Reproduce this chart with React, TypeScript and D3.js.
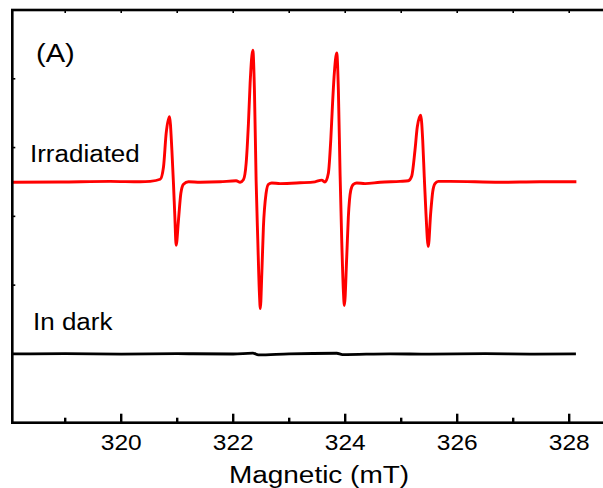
import React from "react";
import * as d3 from "d3";

// Irradiated spectrum (field in mT, intensity a.u.)
const irradiatedField = [
  318.055, 318.911, 319.804, 320.339,
  320.517, 320.696, 320.755, 320.803, 320.862, 320.905, 320.933, 320.958, 320.981, 321.022, 321.065, 321.112, 321.201,
  321.41, 321.767, 322.052,
  322.124, 322.182, 322.231, 322.272, 322.302, 322.35, 322.379, 322.409, 322.439, 322.468, 322.484, 322.511, 322.539, 322.587, 322.628, 322.689, 322.837,
  323.194, 323.462, 323.581,
  323.64, 323.699, 323.742, 323.771, 323.801, 323.849, 323.878, 323.908, 323.938, 323.967, 323.985, 324.027, 324.056, 324.099, 324.145, 324.206, 324.354,
  324.622, 324.979,
  325.127, 325.187, 325.246, 325.287, 325.348, 325.384, 325.412, 325.442, 325.483, 325.526, 325.562, 325.603, 325.662, 325.871,
  326.763, 327.477, 328.128,
];
const irradiatedSignal = [
  3.495, 3.499, 3.509, 3.502,
  3.509, 3.539, 3.718, 4.209, 4.449, 3.961, 3.48, 2.99, 2.578, 2.942, 3.335, 3.466, 3.502,
  3.495, 3.502, 3.517,
  3.495, 3.531, 3.772, 4.354, 4.937, 5.417, 4.835, 3.524, 2.65, 1.879, 1.66, 2.17, 2.84, 3.335, 3.466, 3.485, 3.476,
  3.488, 3.502, 3.527,
  3.499, 3.626, 4.107, 4.592, 5.028, 5.374, 4.835, 3.626, 2.65, 1.922, 1.704, 2.407, 2.99, 3.378, 3.466, 3.485, 3.476,
  3.495, 3.509,
  3.517, 3.582, 3.961, 4.3, 4.471, 4.107, 3.572, 3.044, 2.563, 3.044, 3.354, 3.476, 3.509, 3.509,
  3.495, 3.502, 3.502,
];

// In-dark spectrum
const darkField = [318.055, 319.0, 320.0, 321.0, 322.0, 322.35, 322.45, 323.0, 323.85, 323.95, 324.8, 325.5, 326.5, 327.3, 328.12];
const darkSignal = [1.0, 1.004, 0.998, 1.003, 0.999, 1.012, 0.985, 1.002, 1.01, 0.99, 1.002, 0.996, 1.003, 0.998, 1.0];

const xMajorTicks = [320, 322, 324, 326, 328];
const xMinorTicks = [319, 321, 323, 325, 327];
const xTopTicks = [319, 320, 321, 322, 323, 324, 325, 326, 327, 328];
const yTicks = [1, 2, 3, 4, 5];

const W = 603;
const H = 488;
const FONT = "'Liberation Sans', Arial, Helvetica, sans-serif";

export default function App() {
  const x = d3.scaleLinear().domain([318.055, 328.75]).range([12.3, 611.2]);
  const y = d3.scaleLinear().domain([0, 6]).range([422.7, 10]);

  const irr = irradiatedField.map((f, i) => [f, irradiatedSignal[i]] as [number, number]);
  const dark = darkField.map((f, i) => [f, darkSignal[i]] as [number, number]);

  const line = d3
    .line<[number, number]>()
    .x((d) => x(d[0]))
    .y((d) => y(d[1]))
    .curve(d3.curveMonotoneX);

  const x0 = x.range()[0];
  const x1 = x.range()[1];
  const yb = y(0);
  const yt = y(6);

  const label = (t: string, px: number, py: number, size: number, sx: number, anchor = "start") => (
    <text
      transform={`translate(${px},${py}) scale(${sx},1)`}
      fontFamily={FONT}
      fontSize={size}
      textAnchor={anchor}
      fill="#000"
    >
      {t}
    </text>
  );

  return (
    <svg width={W} height={H} style={{ position: "absolute", left: 0, top: 0, background: "#fff" }}>
      <rect x={0} y={0} width={W} height={H} fill="#fff" />
      <path d={line(dark) || ""} fill="none" stroke="#000" strokeWidth={2.8} />
      <path d={line(irr) || ""} fill="none" stroke="#ff0000" strokeWidth={2.9} strokeLinejoin="round" />

      {/* frame */}
      <rect x={x0} y={yt} width={x1 - x0} height={yb - yt} fill="none" stroke="#000" strokeWidth={2.6} />

      {/* bottom ticks */}
      {xMajorTicks.map((t) => (
        <line key={"M" + t} x1={x(t)} x2={x(t)} y1={yb} y2={yb - 9} stroke="#000" strokeWidth={2.4} />
      ))}
      {xMinorTicks.map((t) => (
        <line key={"m" + t} x1={x(t)} x2={x(t)} y1={yb} y2={yb - 5} stroke="#000" strokeWidth={2.4} />
      ))}
      {/* top ticks */}
      {xTopTicks.map((t) => (
        <line key={"T" + t} x1={x(t)} x2={x(t)} y1={yt} y2={yt + 3} stroke="#000" strokeWidth={1.6} />
      ))}
      {/* left ticks */}
      {yTicks.map((t) => (
        <line key={"L" + t} x1={x0} x2={x0 + 3} y1={y(t)} y2={y(t)} stroke="#000" strokeWidth={1.6} />
      ))}

      {xMajorTicks.map((t) => (
        <g key={"tl" + t}>{label(String(t), x(t), 450, 21.5, 1.14, "middle")}</g>
      ))}

      {label("Magnetic (mT)", 319, 482.5, 23.5, 1.19, "middle")}
      {label("(A)", 36, 62, 26, 1.12)}
      {label("Irradiated", 30, 162, 23, 1.13)}
      {label("In dark", 33, 330, 23, 1.13)}
    </svg>
  );
}
